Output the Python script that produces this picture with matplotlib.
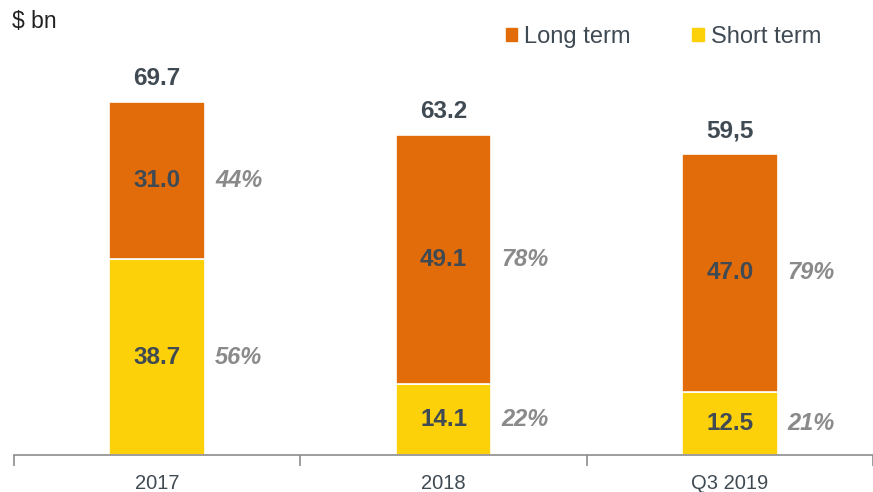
import matplotlib.pyplot as plt
from matplotlib.patches import Patch

categories = ['2017', '2018', 'Q3 2019']
long_term = [31.0, 49.1, 47.0]
short_term = [38.7, 14.1, 12.5]
totals = ['69.7', '63.2', '59,5']
long_pct = ['44%', '78%', '79%']
short_pct = ['56%', '22%', '21%']

orange = '#E36C0A'
yellow = '#FDD10A'
dark = '#404A53'
grey = '#8A8A8A'

plt.rcParams['font.family'] = ['Liberation Sans', 'DejaVu Sans']

fig = plt.figure(figsize=(8.73, 4.92), dpi=100)
ax = fig.add_axes([14 / 873, 37 / 492, 1 - 14 / 873, 395 / 492])

x = list(range(len(categories)))
w = 0.335
ax.bar(x, short_term, width=w, color=yellow, edgecolor='white', linewidth=1.2)
ax.bar(x, long_term, width=w, bottom=short_term, color=orange, edgecolor='white', linewidth=1.2)

for i in x:
    s = short_term[i]
    l = long_term[i]
    ax.text(i, s / 2, f'{s:.1f}', ha='center', va='center', fontsize=17.5, fontweight='bold', color=dark)
    ax.text(i, s + l / 2, f'{l:.1f}', ha='center', va='center', fontsize=17.5, fontweight='bold', color=dark)
    ax.text(i + 0.285, s / 2, short_pct[i], ha='center', va='center', fontsize=17,
            fontweight='bold', fontstyle='italic', color=grey)
    ax.text(i + 0.285, s + l / 2, long_pct[i], ha='center', va='center', fontsize=17,
            fontweight='bold', fontstyle='italic', color=grey)
    ax.text(i, s + l + 2.3, totals[i], ha='center', va='bottom', fontsize=17.5, fontweight='bold', color=dark)

ax.set_xlim(-0.5, 2.5)
ax.set_ylim(0, 78)
ax.set_yticks([])
for sp in ['left', 'right', 'top']:
    ax.spines[sp].set_visible(False)
ax.spines['bottom'].set_color('#8C8C8C')
ax.spines['bottom'].set_linewidth(1.2)

ax.set_xticks(x)
ax.set_xticklabels(categories, fontsize=14.5, color=dark)
ax.tick_params(axis='x', which='major', length=0, pad=14)
ax.set_xticks([-0.5, 0.5, 1.5, 2.5], minor=True)
ax.tick_params(axis='x', which='minor', length=8, color='#8C8C8C', width=1.2)

fig.text(12 / 873, 1 - 22 / 492, '$ bn', fontsize=16.5, color='#222222', va='center', ha='left')

handles = [Patch(color=orange, label='Long term'), Patch(color=yellow, label='Short term')]
fig.legend(handles=handles, loc='center right', bbox_to_anchor=(831 / 873, 1 - 37 / 492), ncol=2,
           frameon=False, fontsize=17, handlelength=0.5, handleheight=0.5, handletextpad=0.3,
           columnspacing=2.6, labelcolor=dark, borderaxespad=0)

fig.savefig('out.png', dpi=100)
